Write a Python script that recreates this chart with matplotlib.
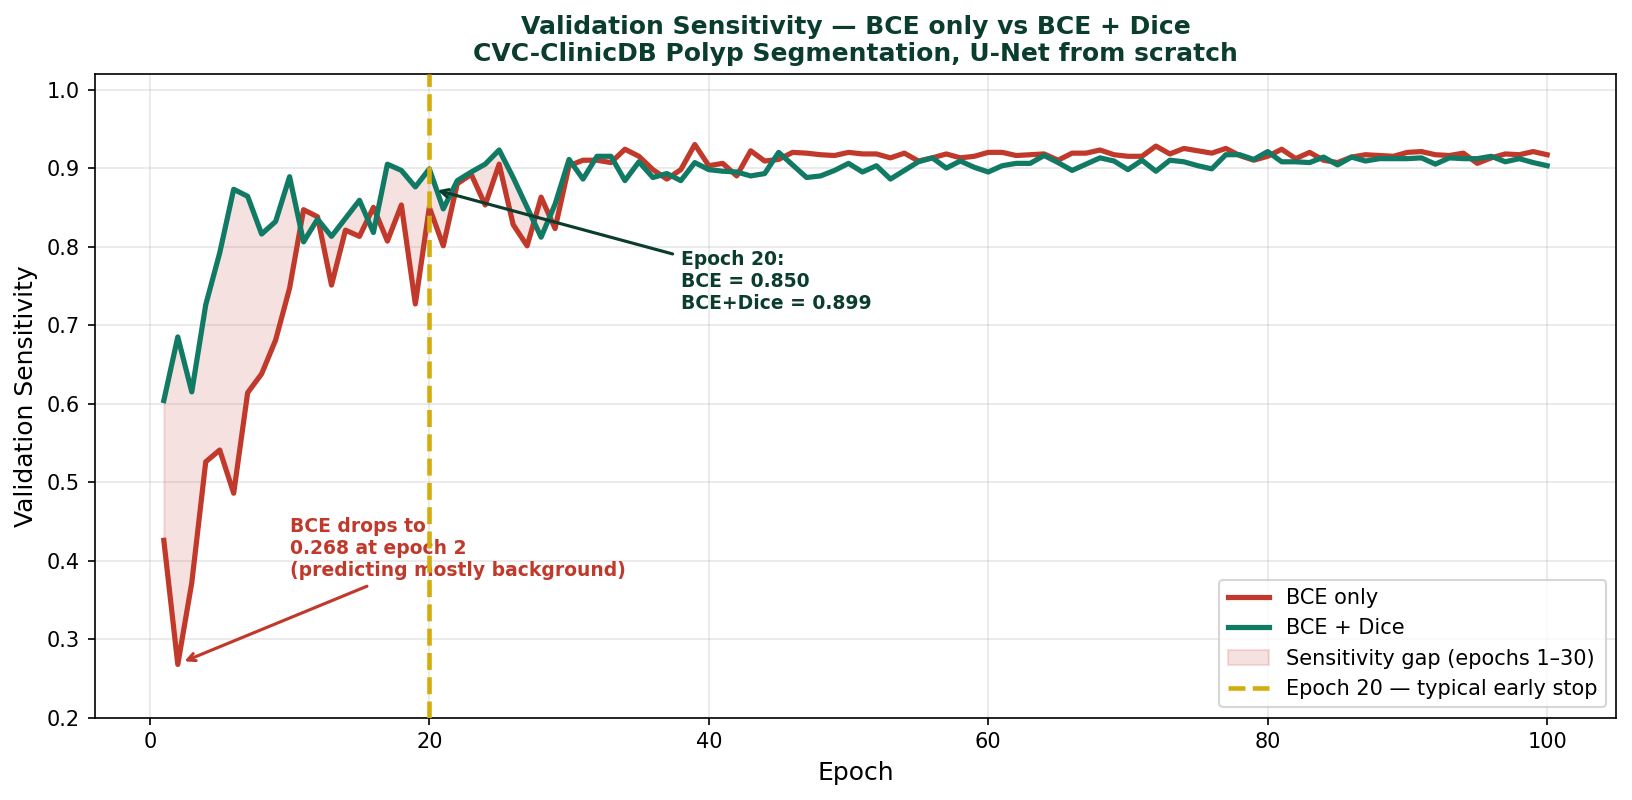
import numpy as np
import matplotlib
matplotlib.use("Agg")
import matplotlib.pyplot as plt

epochs = list(range(1, 101))

bce_only = [
    0.426, 0.268, 0.372, 0.526, 0.541, 0.486, 0.614, 0.638, 0.681, 0.747,
    0.847, 0.838, 0.751, 0.821, 0.813, 0.850, 0.807, 0.853, 0.727, 0.850,
    0.801, 0.880, 0.892, 0.853, 0.905, 0.828, 0.801, 0.863, 0.823, 0.903,
    0.910, 0.910, 0.907, 0.924, 0.915, 0.898, 0.886, 0.898, 0.930, 0.903,
    0.906, 0.890, 0.922, 0.909, 0.911, 0.920, 0.919, 0.917, 0.916, 0.920,
    0.918, 0.918, 0.913, 0.919, 0.909, 0.913, 0.918, 0.913, 0.915, 0.920,
    0.920, 0.916, 0.917, 0.918, 0.910, 0.919, 0.919, 0.923, 0.917, 0.915,
    0.915, 0.928, 0.918, 0.925, 0.922, 0.919, 0.925, 0.916, 0.910, 0.915,
    0.924, 0.912, 0.920, 0.910, 0.907, 0.914, 0.917, 0.916, 0.915, 0.920,
    0.921, 0.917, 0.916, 0.919, 0.906, 0.913, 0.918, 0.917, 0.921, 0.917,
]

bce_dice = [
    0.604, 0.685, 0.615, 0.726, 0.792, 0.873, 0.864, 0.816, 0.832, 0.889,
    0.806, 0.835, 0.813, 0.836, 0.859, 0.818, 0.905, 0.897, 0.876, 0.899,
    0.848, 0.884, 0.895, 0.905, 0.923, 0.888, 0.850, 0.812, 0.854, 0.911,
    0.886, 0.915, 0.915, 0.884, 0.908, 0.888, 0.893, 0.884, 0.907, 0.898,
    0.896, 0.895, 0.890, 0.893, 0.920, 0.904, 0.888, 0.890, 0.897, 0.906,
    0.895, 0.903, 0.886, 0.897, 0.908, 0.913, 0.900, 0.909, 0.901, 0.895,
    0.903, 0.906, 0.906, 0.916, 0.907, 0.897, 0.905, 0.913, 0.909, 0.898,
    0.910, 0.896, 0.910, 0.908, 0.903, 0.899, 0.917, 0.917, 0.911, 0.921,
    0.908, 0.908, 0.907, 0.914, 0.904, 0.914, 0.909, 0.912, 0.912, 0.912,
    0.913, 0.905, 0.913, 0.912, 0.912, 0.915, 0.908, 0.912, 0.907, 0.903,
]

gap_end = 30
early_stop = 20

RED = "#c0392b"
GREEN = "#117a65"
GOLD = "#d4ac0d"
DARK = "#0b3d2e"

fig, ax = plt.subplots(figsize=(10.88, 5.3334), dpi=150)

ax.plot(epochs, bce_only, color=RED, lw=2.5, label="BCE only", zorder=3)
ax.plot(epochs, bce_dice, color=GREEN, lw=2.5, label="BCE + Dice", zorder=3)
ax.fill_between(epochs[:gap_end], bce_only[:gap_end], bce_dice[:gap_end],
                color=RED, alpha=0.15, label="Sensitivity gap (epochs 1\u201330)", zorder=2)
ax.axvline(early_stop, color=GOLD, lw=2.2, ls="--",
           label="Epoch 20 \u2014 typical early stop", zorder=4)

ax.annotate("BCE drops to\n0.268 at epoch 2\n(predicting mostly background)",
            xy=(2.2, 0.270), xytext=(10, 0.38),
            color=RED, fontsize=9, fontweight="bold",
            arrowprops=dict(arrowstyle="->", color=RED, lw=1.5))
ax.annotate("Epoch 20:\nBCE = 0.850\nBCE+Dice = 0.899",
            xy=(20.3, 0.873), xytext=(38, 0.72),
            color=DARK, fontsize=9, fontweight="bold",
            arrowprops=dict(arrowstyle="->", color=DARK, lw=1.5))

ax.set_xlim(-3.95, 104.95)
ax.set_ylim(0.2, 1.02)
ax.set_xlabel("Epoch", fontsize=12)
ax.set_ylabel("Validation Sensitivity", fontsize=12)
ax.set_title("Validation Sensitivity \u2014 BCE only vs BCE + Dice\nCVC-ClinicDB Polyp Segmentation, U-Net from scratch",
             fontsize=12, fontweight="bold", color=DARK)
ax.grid(True, alpha=0.3)
ax.legend(loc="lower right", fontsize=10)

fig.subplots_adjust(left=0.058, right=0.9904, top=0.9077, bottom=0.1027)
fig.savefig("out.png", dpi=150)
